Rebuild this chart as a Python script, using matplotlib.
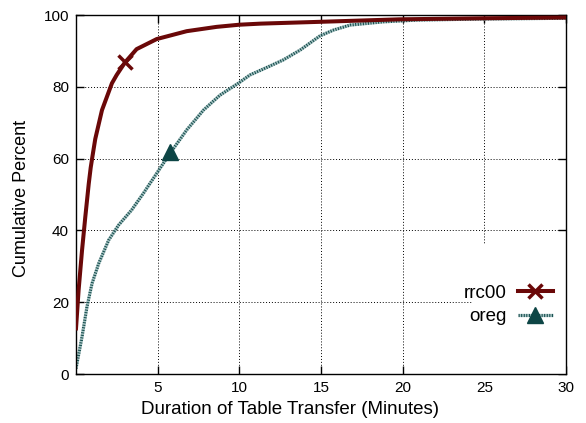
import matplotlib
matplotlib.use("Agg")
import matplotlib.pyplot as plt
from matplotlib.lines import Line2D
from matplotlib.patches import Rectangle

plt.rcParams['font.family'] = ['Liberation Sans', 'DejaVu Sans']

# rrc00 CDF
rrc_x = [0.0, 0.16, 0.37, 0.57, 0.78, 0.9, 1.02, 1.18, 1.59, 2.2, 2.49, 3.0, 3.71, 4.94, 6.78,
         8.61, 10.0, 11.3, 14.9, 19.8, 25.0, 30.0]
rrc_y = [12.7, 23.4, 34.5, 43.8, 53.0, 57.5, 61.0, 65.5, 73.5, 81.0, 83.3, 86.8, 90.5, 93.3, 95.5,
         96.7, 97.3, 97.6, 98.1, 98.8, 99.1, 99.3]
# oreg CDF
oreg_x = [0.0, 0.04, 0.37, 0.67, 0.98, 1.39, 2.0, 2.61, 3.41, 4.12, 4.94, 5.76, 6.78, 7.8, 8.82,
          9.94, 10.65, 11.88, 12.69, 13.71, 14.94, 15.76, 16.78, 18.8, 20.9, 25.0, 30.0]
oreg_y = [1.5, 2.5, 10.4, 18.7, 25.2, 30.8, 37.3, 41.5, 45.7, 50.3, 55.9, 61.5, 68.0, 73.5, 77.7,
          81.0, 83.3, 85.8, 87.5, 90.2, 94.2, 95.8, 97.2, 98.1, 98.6, 98.9, 99.1]
rrc_mark_x, rrc_mark_y = [3.0], [86.8]
oreg_mark_x, oreg_mark_y = [5.76], [61.9]

x_ticks = [5, 10, 15, 20, 25, 30]
y_ticks = [0, 20, 40, 60, 80, 100]

red = '#6a0808'
teal_light = '#a4c4c4'
teal_dark = '#1a5252'
tri_col = '#0d4545'

fig = plt.figure(figsize=(5.86, 4.23), dpi=100)
ax = fig.add_axes([0.1297, 0.1158, 0.8362, 0.8487])
ax.set_axisbelow(True)
ax.grid(True, color='black', linestyle=(0, (1, 2)), linewidth=0.7)

# white area behind the key
ax.add_patch(Rectangle((0.808, 0.0), 0.192, 0.36, transform=ax.transAxes,
                       facecolor='white', edgecolor='none', zorder=1))

ax.plot(oreg_x, oreg_y, color=teal_dark, gapcolor=teal_light, lw=2.3,
        linestyle=(0, (0.4, 0.4)), zorder=2)
ax.plot(rrc_x, rrc_y, color=red, lw=2.9, zorder=3, solid_joinstyle='round')
ax.plot(rrc_mark_x, rrc_mark_y, linestyle='none', marker='x', color=red,
        markersize=10, mew=2.5, zorder=4)
ax.plot(oreg_mark_x, oreg_mark_y, linestyle='none', marker='^', color=tri_col,
        markersize=11.5, zorder=4)

ax.set_xlim(0, 30)
ax.set_ylim(0, 100)
ax.set_xticks(x_ticks)
ax.set_yticks(y_ticks)
ax.tick_params(direction='in', top=True, right=True, length=6, width=1, labelsize=11, pad=5)
for s in ax.spines.values():
    s.set_linewidth(1.0)
ax.set_xlabel('Duration of Table Transfer (Minutes)', fontsize=13.5)
ax.set_ylabel('Cumulative Percent', fontsize=13)
ax.xaxis.set_label_coords(0.437, -0.075)
ax.yaxis.set_label_coords(-0.094, 0.49)

h1 = Line2D([], [], color=red, lw=2.9, marker='x', markersize=10, mew=2.5)
h2 = Line2D([], [], color=teal_dark, gapcolor=teal_light, lw=2.3, linestyle=(0, (0.4, 0.4)),
            marker='^', markersize=11.5, markerfacecolor=tri_col, markeredgecolor=tri_col)
leg = ax.legend([h1, h2], ['rrc00', 'oreg'], loc='center right',
                bbox_to_anchor=(0.973, 0.192), frameon=False, markerfirst=False,
                numpoints=1, fontsize=13.5, handlelength=1.85, handletextpad=0.6,
                labelspacing=0.35, borderpad=0, borderaxespad=0)

fig.savefig('out.png', dpi=100)
